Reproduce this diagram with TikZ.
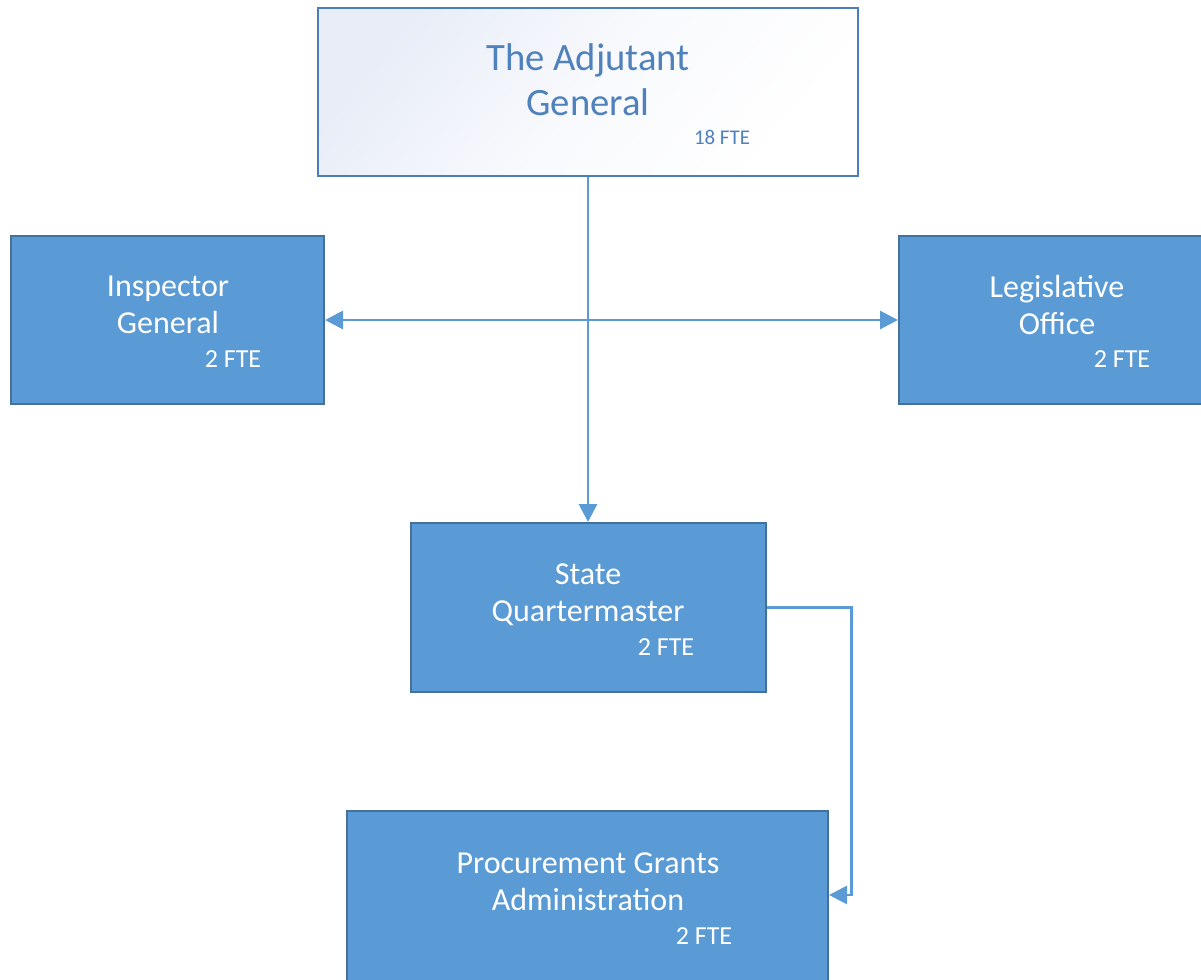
\documentclass[tikz,border=0pt]{standalone}
\usepackage{fontspec}
\setmainfont{Carlito}
\usetikzlibrary{arrows.meta}
\definecolor{unitfill}{HTML}{5B9BD5}
\definecolor{unitline}{HTML}{41719C}
\definecolor{topline}{HTML}{4A7EBB}
\definecolor{toptext}{HTML}{4F81BD}
\definecolor{topfill}{HTML}{E8EDF7}
\definecolor{linkcol}{HTML}{5B9BD5}
\tikzset{
	unit/.style={draw=unitline, fill=unitfill, line width=1.5pt, inner sep=0pt},
	chief/.style={draw=topline, line width=1.5pt, inner sep=0pt, top color=topfill, bottom color=white, middle color=white!70!topfill, shading angle=50},
	unitname/.style={text=white, align=center, font=\fontsize{24}{27.75}\selectfont},
	chiefname/.style={text=toptext, align=center, font=\fontsize{29}{33.75}\selectfont},
	fte/.style={text=white, font=\fontsize{19.5}{22}\selectfont},
	chieffte/.style={text=toptext, font=\fontsize{15.7}{18}\selectfont},
	link/.style={draw=linkcol, line width=2.2pt, -{Triangle[length=13.5pt,width=13.5pt]}},
}
\begin{document}
\begin{tikzpicture}[x=0.75pt,y=-0.75pt]
	\useasboundingbox (0,0) rectangle (1201,979);
	\clip (0,0) rectangle (1201,979);
	% boxes
	\node[chief, minimum width=405pt, minimum height=126pt] (tag) at (588,92) {};
	\node[unit, minimum width=234.75pt, minimum height=126pt] (ig) at (167.5,320) {};
	\node[unit, minimum width=234.75pt, minimum height=126pt] (lo) at (1055.5,320) {};
	\node[unit, minimum width=266.25pt, minimum height=126.75pt] (sq) at (588,607.5) {};
	\node[unit, minimum width=360.75pt, minimum height=141.75pt] (pga) at (587.5,905.5) {};
	% texts
	\node[chiefname] (tagname) at (588,80) {The Adjutant\\General};
	\node[chieffte] (tagfte) at (722,137) {18 FTE};
	\node[unitname] (igname) at (168,305) {Inspector\\General};
	\node[fte] (igfte) at (233,359) {2 FTE};
	\node[unitname] (loname) at (1057,305) {Legislative\\Office};
	\node[fte] (lofte) at (1122,359) {2 FTE};
	\node[unitname] (sqname) at (588,594.5) {State\\Quartermaster};
	\node[fte] (sqfte) at (666,647) {2 FTE};
	\node[unitname] (pganame) at (588,882) {Procurement Grants\\Administration};
	\node[fte] (pgafte) at (704,936) {2 FTE};
	% connectors
	\draw[link] (tag.south) -- (sq.north);
	\draw[link, {Triangle[length=13.5pt,width=13.5pt]}-{Triangle[length=13.5pt,width=13.5pt]}] (ig.east) -- (lo.west);
	\draw[link] (sq.east) -- ++(85,0) |- ([yshift=7.9pt]pga.east);
\end{tikzpicture}
\end{document}
